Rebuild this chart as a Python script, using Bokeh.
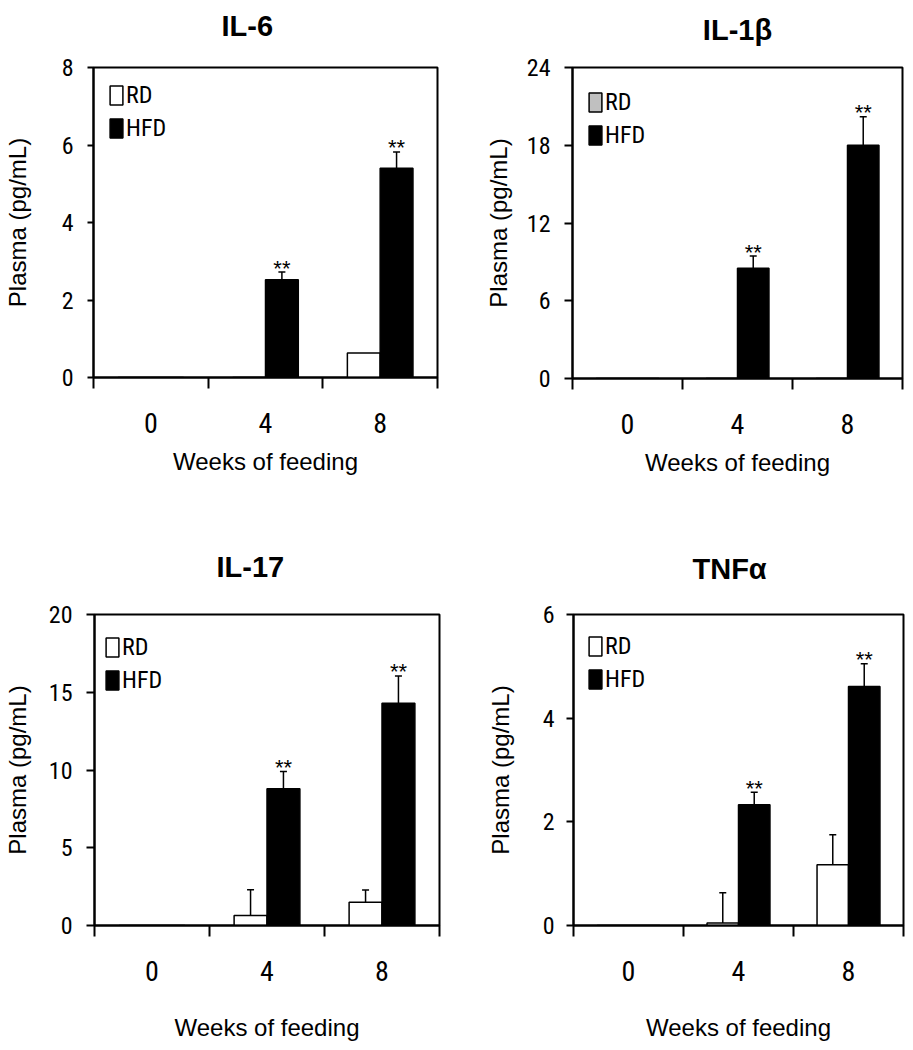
from bokeh.plotting import figure
from bokeh.layouts import column, row
from bokeh.models import (Range1d, FixedTicker, Legend, LegendItem, ColumnDataSource,
                          Whisker, TeeHead, Title)
from bokeh.core.properties import value
from bokeh.embed import file_html
from bokeh.resources import INLINE

# ---------------- data ----------------
weeks = ["0", "4", "8"]
series_names = ["RD", "HFD"]
titles = ["IL-6", "IL-1\u03b2", "IL-17", "TNF\u03b1"]
sig = ["", "**", "**"]

il6_rd = [0.0, 0.0, 0.63]
il6_rd_err = [0.0, 0.0, 0.0]
il6_hfd = [0.0, 2.52, 5.40]
il6_hfd_err = [0.0, 0.20, 0.42]
il6_ticks = [0, 2, 4, 6, 8]

il1b_rd = [0.0, 0.0, 0.0]
il1b_rd_err = [0.0, 0.0, 0.0]
il1b_hfd = [0.0, 8.5, 18.0]
il1b_hfd_err = [0.0, 0.95, 2.2]
il1b_ticks = [0, 6, 12, 18, 24]

il17_rd = [0.0, 0.65, 1.5]
il17_rd_err = [0.0, 1.65, 0.78]
il17_hfd = [0.0, 8.8, 14.3]
il17_hfd_err = [0.0, 1.1, 1.75]
il17_ticks = [0, 5, 10, 15, 20]

tnf_rd = [0.0, 0.05, 1.17]
tnf_rd_err = [0.0, 0.58, 0.58]
tnf_hfd = [0.0, 2.33, 4.61]
tnf_hfd_err = [0.0, 0.24, 0.44]
tnf_ticks = [0, 2, 4, 6]

panels_data = [
    (il6_rd, il6_rd_err, il6_hfd, il6_hfd_err, il6_ticks),
    (il1b_rd, il1b_rd_err, il1b_hfd, il1b_hfd_err, il1b_ticks),
    (il17_rd, il17_rd_err, il17_hfd, il17_hfd_err, il17_ticks),
    (tnf_rd, tnf_rd_err, tnf_hfd, tnf_hfd_err, tnf_ticks),
]

# ---------------- styles / layout ----------------
rd_colors = ["white", "#c0c0c0", "white", "white"]
styles = [
    dict(fw=344, fh=310, bl=85, br=19, bt=66, bb=142, tick_out=6, lab_so=14, als=28,
         talign="left", toff=128, tgap=23, lx=15, ly=235, xals=12),
    dict(fw=330, fh=311, bl=116, br=3, bt=67, bb=140, tick_out=8, lab_so=14, als=12,
         talign="center", toff=0, tgap=19, lx=15, ly=229, xals=12),
    dict(fw=345, fh=311, bl=86, br=17, bt=96, bb=115, tick_out=8, lab_so=14, als=15,
         talign="left", toff=122, tgap=29, lx=10, ly=231, xals=30),
    dict(fw=330, fh=311, bl=117, br=2, bt=96, bb=115, tick_out=7, lab_so=12, als=26,
         talign="left", toff=119, tgap=27, lx=14, ly=232, xals=30),
]

NARROW = "Liberation Sans Narrow, Roboto Condensed, DejaVu Sans Condensed, Liberation Sans, sans-serif"
SANS = "Liberation Sans"
BW = 0.286
DX = 0.143


def make_panel(i):
    rd, rd_err, hfd, hfd_err, ticks = panels_data[i]
    s = styles[i]
    pos = list(range(len(weeks)))
    p = figure(width=s["bl"] + s["fw"] + s["br"], height=s["bt"] + s["fh"] + s["bb"],
               frame_width=s["fw"], frame_height=s["fh"],
               min_border_left=s["bl"], min_border_right=s["br"],
               min_border_top=s["bt"], min_border_bottom=s["bb"],
               x_range=Range1d(-0.5, len(weeks) - 0.5),
               y_range=Range1d(0, ticks[-1]),
               output_backend="svg", toolbar_location=None, tools="")
    p.background_fill_color = "white"
    p.border_fill_color = "white"
    p.outline_line_color = "black"
    p.outline_line_width = 2
    p.xgrid.visible = False
    p.ygrid.visible = False

    # title: a blank spacer next to the frame, then the real title above it
    p.title = None
    p.add_layout(Title(text=" ", text_font_size="1px", standoff=s["tgap"]), "above")
    p.add_layout(Title(text=titles[i], align=s["talign"], offset=s["toff"], standoff=0,
                       text_font=SANS, text_font_style="bold", text_font_size="29px",
                       text_color="black"), "above")

    src_rd = ColumnDataSource(dict(x=[v - DX for v in pos], top=rd))
    src_hfd = ColumnDataSource(dict(x=[v + DX for v in pos], top=hfd))
    r_rd = p.vbar(x="x", top="top", width=BW, source=src_rd, fill_color=rd_colors[i],
                  line_color="black", line_width=1.5)
    r_hfd = p.vbar(x="x", top="top", width=BW, source=src_hfd, fill_color="black",
                   line_color="black", line_width=1.5)

    # error bars (upper)
    ex, elo, ehi = [], [], []
    for k in pos:
        if rd_err[k] > 0:
            ex.append(k - DX); elo.append(rd[k]); ehi.append(rd[k] + rd_err[k])
        if hfd_err[k] > 0:
            ex.append(k + DX); elo.append(hfd[k]); ehi.append(hfd[k] + hfd_err[k])
    esrc = ColumnDataSource(dict(base=ex, lower=elo, upper=ehi))
    p.add_layout(Whisker(source=esrc, base="base", lower="lower", upper="upper",
                         dimension="height", line_color="black", line_width=1.5,
                         upper_head=TeeHead(size=7, line_color="black", line_width=1.5),
                         lower_head=None))

    # significance stars
    sx = [k + DX for k in pos if sig[k]]
    sy = [hfd[k] + hfd_err[k] for k in pos if sig[k]]
    st = [sig[k] for k in pos if sig[k]]
    p.text(x=sx, y=sy, text=st, text_align="center", text_baseline="alphabetic",
           y_offset=-4, text_font=value(SANS), text_font_size="22px", text_color="black")

    # axes
    xa = p.xaxis[0]
    xa.ticker = FixedTicker(ticks=pos, minor_ticks=[k - 0.5 for k in pos] + [pos[-1] + 0.5])
    xa.major_label_overrides = {k: w for k, w in zip(pos, weeks)}
    xa.major_tick_out = 0
    xa.major_tick_in = 0
    xa.minor_tick_out = 11
    xa.minor_tick_in = 0
    xa.minor_tick_line_color = "black"
    xa.minor_tick_line_width = 2
    xa.axis_line_width = 2
    xa.axis_line_color = "black"
    xa.major_label_standoff = 24
    xa.major_label_text_font = NARROW
    xa.major_label_text_font_size = "28px"
    xa.major_label_text_color = "black"
    xa.axis_label = "Weeks of feeding"
    xa.axis_label_text_font = SANS
    xa.axis_label_text_font_style = "normal"
    xa.axis_label_text_font_size = "24px"
    xa.axis_label_text_color = "black"
    xa.axis_label_standoff = s["xals"]

    ya = p.yaxis[0]
    ya.ticker = FixedTicker(ticks=ticks, minor_ticks=[])
    ya.major_tick_out = s["tick_out"]
    ya.major_tick_in = 0
    ya.major_tick_line_width = 2
    ya.major_tick_line_color = "black"
    ya.axis_line_width = 2
    ya.axis_line_color = "black"
    ya.major_label_standoff = s["lab_so"]
    ya.major_label_text_font = NARROW
    ya.major_label_text_font_size = "24px"
    ya.major_label_text_color = "black"
    ya.axis_label = "Plasma (pg/mL)"
    ya.axis_label_text_font = SANS
    ya.axis_label_text_font_style = "normal"
    ya.axis_label_text_font_size = "24px"
    ya.axis_label_text_color = "black"
    ya.axis_label_standoff = s["als"]

    legend = Legend(items=[LegendItem(label=series_names[0], renderers=[r_rd]),
                           LegendItem(label=series_names[1], renderers=[r_hfd])],
                    location=(s["lx"], s["ly"]), margin=0, padding=0, spacing=5,
                    glyph_width=16, glyph_height=24, label_height=19, label_standoff=2,
                    label_text_font=NARROW, label_text_font_size="24px",
                    label_text_color="black",
                    background_fill_alpha=0, border_line_alpha=0)
    p.add_layout(legend)
    return p


figs = [make_panel(i) for i in range(4)]
layout = column(row(figs[0], figs[1]), row(figs[2], figs[3]))
open("out.html", "w").write(file_html(layout, INLINE))
